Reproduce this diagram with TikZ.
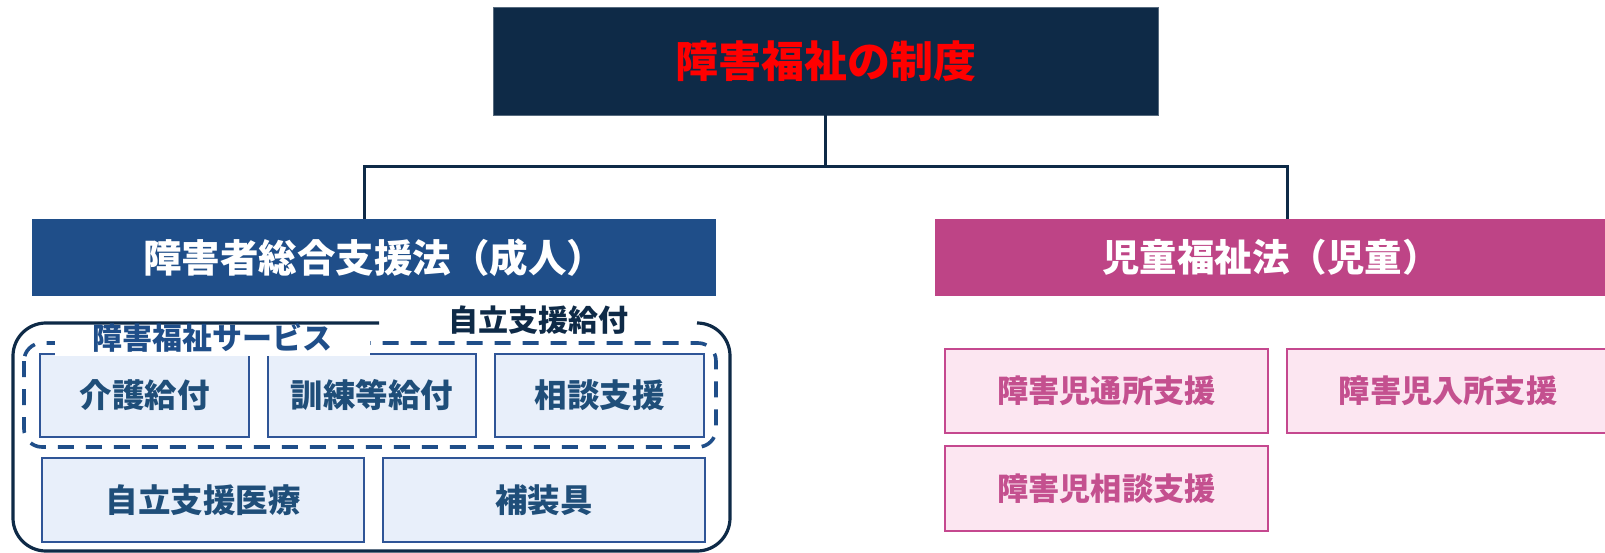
\documentclass[tikz,border=0pt]{standalone}
\usepackage{fontspec}
\setmainfont{Noto Sans CJK JP}
\definecolor{navy}{HTML}{0E2A47}
\definecolor{bluehead}{HTML}{1F4E89}
\definecolor{pinkhead}{HTML}{BE4486}
\definecolor{lightblue}{HTML}{E8EFFA}
\definecolor{blueborder}{HTML}{2F5597}
\definecolor{bluetext}{HTML}{1F4E79}
\definecolor{lightpink}{HTML}{FCE6F1}
\definecolor{pinkborder}{HTML}{C5488F}
\definecolor{pinktext}{HTML}{C4508F}
\newcommand{\fsz}[1]{\fontsize{#1pt}{#1pt}\selectfont\bfseries}
\tikzset{
  x=1pt, y=-1pt,
  every node/.style={inner sep=0pt, outer sep=0pt, align=center},
  topbox/.style={fill=navy, draw=navy!70!white, line width=0.8pt, text=red, font=\fsz{43}},
  headL/.style={fill=bluehead, text=white, font=\fsz{38.5}},
  headR/.style={fill=pinkhead, text=white, font=\fsz{37.5}},
  bluebox/.style={fill=lightblue, draw=blueborder, line width=1.6pt, text=bluetext, font=\fsz{32.5}},
  pinkbox/.style={fill=lightpink, draw=pinkborder, line width=2pt, text=pinktext, font=\fsz{31.2}},
  conn/.style={draw=navy, line width=3pt},
  outerline/.style={draw=navy, line width=3.2pt},
  dashline/.style={draw=bluehead, line width=3.6pt, dash pattern=on 16pt off 12pt},
  grouplabel/.style={font=\fsz{30}}
}
\begin{document}
\begin{tikzpicture}
\useasboundingbox (0,0) rectangle (1605,553);
\clip (0,0) rectangle (1605,553);
\fill[white] (0,0) rectangle (1605,553);

% top
\node[topbox, minimum width=665pt, minimum height=108pt] (top) at (825.5,61.5) {\raisebox{4pt}{障害福祉の制度}};

% headers
\node[headL, minimum width=684pt, minimum height=77pt] (left) at (374,257.5) {障害者総合支援法（成人）};
\node[headR, minimum width=672pt, minimum height=77pt] (right) at (1271,257.5) {児童福祉法（児童）};

% connectors
\coordinate (jl) at (364.5,167);
\coordinate (jr) at (1287,167);
\draw[conn] (top.south) -- (top.south |- jl);
\draw[conn, line cap=rect] (jl) -- (jr);
\draw[conn] (jl) -- (jl |- left.north);
\draw[conn] (jr) -- (jr |- right.north);

% outer solid group
\draw[outerline, rounded corners=33pt] (379,323) -- (13,323) -- (13,551) -- (730,551) -- (730,323) -- (697,323);
\node[grouplabel, text=navy] (jiritsu) at (538,320) {自立支援給付};

% dashed group
\draw[dashline, rounded corners=18pt] (24,343) rectangle (716,447);

% inner blue boxes
\node[bluebox, minimum width=209pt, minimum height=83pt] (kaigo) at (144.5,395.5) {介護給付};
\node[bluebox, minimum width=208pt, minimum height=83pt] (kunren) at (372,395.5) {訓練等給付};
\node[bluebox, minimum width=209pt, minimum height=83pt] (soudan) at (599.5,395.5) {相談支援};
\node[bluebox, minimum width=322pt, minimum height=84pt] (iryo) at (203,500) {自立支援医療};
\node[bluebox, minimum width=322pt, minimum height=84pt] (hosougu) at (544,500) {補装具};

% label of dashed group
\fill[white] (55,333) rectangle (370,355.6);
\node[grouplabel, text=bluehead] (fukushi) at (212,338) {障害福祉サービス};

% pink boxes
\node[pinkbox, minimum width=323pt, minimum height=84pt] (tsusho) at (1106.5,391) {障害児通所支援};
\node[pinkbox, minimum width=322pt, minimum height=84pt] (nyusho) at (1448,391) {障害児入所支援};
\node[pinkbox, minimum width=323pt, minimum height=85pt] (jisoudan) at (1106.5,488.5) {障害児相談支援};
\end{tikzpicture}
\end{document}
